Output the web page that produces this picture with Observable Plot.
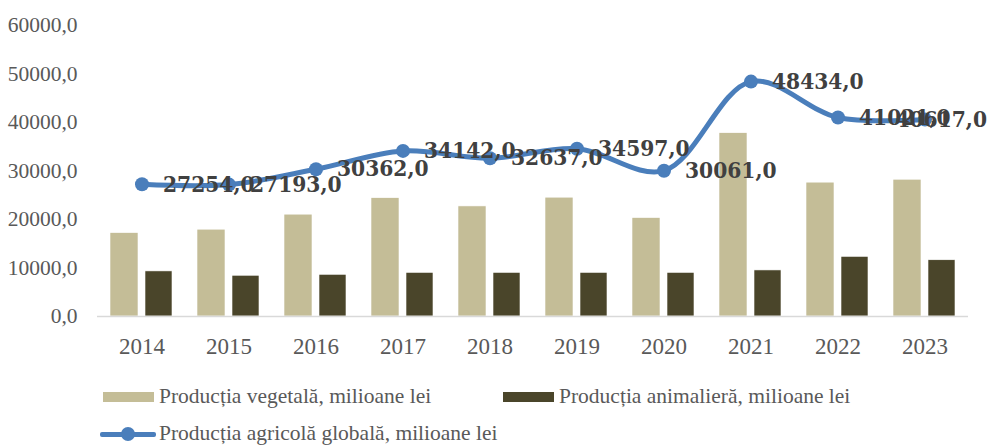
<!DOCTYPE html>
<html>
<head>
<meta charset="utf-8">
<script src="https://cdn.jsdelivr.net/npm/d3@7"></script>
<script src="https://cdn.jsdelivr.net/npm/@observablehq/plot@0.6"></script>
<style>
  html, body { margin: 0; padding: 0; background: #fff; }
  #wrap { position: relative; width: 990px; height: 445px; overflow: hidden; }
  #legend { position: relative; width: 990px; height: 73px; font-family: "Liberation Serif", "Times New Roman", serif; font-size: 21.5px; color: #595959; }
  .item { position: absolute; display: flex; align-items: center; white-space: nowrap; }
  .sw { display: inline-block; width: 51px; height: 10px; margin-right: 5px; }
  .lsw { display: inline-block; width: 56px; height: 14px; margin-right: 3px; position: relative; }
  .lsw .ln { position: absolute; left: 0; right: 0; top: 5px; height: 5px; background: #4A7EBB; border-radius: 2px; }
  .lsw .dt { position: absolute; left: 21px; top: 0px; width: 14px; height: 14px; border-radius: 50%; background: #4A7EBB; }
</style>
</head>
<body>
<div id="wrap">
  <div id="chart"></div>
  <div id="legend"></div>
</div>
<script>
const years = ["2014","2015","2016","2017","2018","2019","2020","2021","2022","2023"];
const vegetala = [17200, 17900, 21000, 24400, 22700, 24500, 20300, 37800, 27600, 28200];
const animaliera = [9300, 8400, 8600, 9000, 9000, 9000, 9000, 9500, 12300, 11600];
const globala = [27254, 27193, 30362, 34142, 32637, 34597, 30061, 48434, 41021, 40617];
const yTicks = [0, 10000, 20000, 30000, 40000, 50000, 60000];
const seriesNames = ["Producția vegetală, milioane lei", "Producția animalieră, milioane lei", "Producția agricolă globală, milioane lei"];
const colors = ["#C4BD97", "#4A452A", "#4A7EBB"];

const fmt = d3.formatLocale({decimal: ",", thousands: "", grouping: [3], currency: ["", ""]}).format(".1f");

const veg = years.map((y, i) => ({year: y, value: vegetala[i]}));
const ani = years.map((y, i) => ({year: y, value: animaliera[i]}));
const glo = years.map((y, i) => ({year: y, value: globala[i]}));
const gloMain = glo.slice(0, -1);
const gloLast = glo.slice(-1);

const labelStyle = {fontWeight: "bold", fontSize: 22.5, fill: "#404040",
  fontFamily: "'DejaVu Serif Condensed', 'DejaVu Serif', serif", fontStretch: "condensed"};

const chart = Plot.plot({
  width: 990,
  height: 372,
  marginTop: 25,
  marginBottom: 56,
  marginLeft: 97,
  marginRight: 22,
  style: {fontFamily: "'Liberation Serif', 'Times New Roman', serif", background: "#fff"},
  x: {domain: years, type: "band", padding: 0, label: null},
  y: {domain: [0, 60000], label: null},
  marks: [
    Plot.axisY({ticks: yTicks, tickFormat: fmt, tickSize: 0, tickPadding: 20, fontSize: 21.5, fill: "#595959", label: null}),
    Plot.axisX({tickSize: 0, tickPadding: 21, fontSize: 23, fill: "#595959", label: null}),
    Plot.barY(veg, {x: "year", y: "value", fill: colors[0], insetLeft: 12, insetRight: 47, stroke: "#fff", strokeWidth: 0.6}),
    Plot.barY(ani, {x: "year", y: "value", fill: colors[1], insetLeft: 47, insetRight: 13, stroke: "#fff", strokeWidth: 0.6}),
    Plot.ruleY([0], {stroke: "#D9D9D9", strokeWidth: 1.5}),
    Plot.line(glo, {x: "year", y: "value", stroke: colors[2], strokeWidth: 5, curve: "catmull-rom"}),
    Plot.dot(glo, {x: "year", y: "value", fill: colors[2], r: 7}),
    Plot.text(gloMain, {x: "year", y: "value", text: d => fmt(d.value), dx: 21, textAnchor: "start", ...labelStyle}),
    Plot.text(gloLast, {x: "year", y: "value", text: d => fmt(d.value), dx: 62, textAnchor: "end", ...labelStyle})
  ]
});
document.getElementById("chart").appendChild(chart);

const legend = document.getElementById("legend");
const items = [
  {name: seriesNames[0], color: colors[0], left: 103, top: 12, type: "bar"},
  {name: seriesNames[1], color: colors[1], left: 503, top: 12, type: "bar"},
  {name: seriesNames[2], color: colors[2], left: 100, top: 49, type: "line"}
];
for (const it of items) {
  const d = document.createElement("div");
  d.className = "item";
  d.style.left = it.left + "px";
  d.style.top = it.top + "px";
  if (it.type === "bar") {
    const s = document.createElement("span");
    s.className = "sw";
    s.style.background = it.color;
    d.appendChild(s);
  } else {
    const s = document.createElement("span");
    s.className = "lsw";
    s.innerHTML = '<span class="ln"></span><span class="dt"></span>';
    d.appendChild(s);
  }
  const t = document.createElement("span");
  t.textContent = it.name;
  d.appendChild(t);
  legend.appendChild(d);
}
</script>
</body>
</html>
